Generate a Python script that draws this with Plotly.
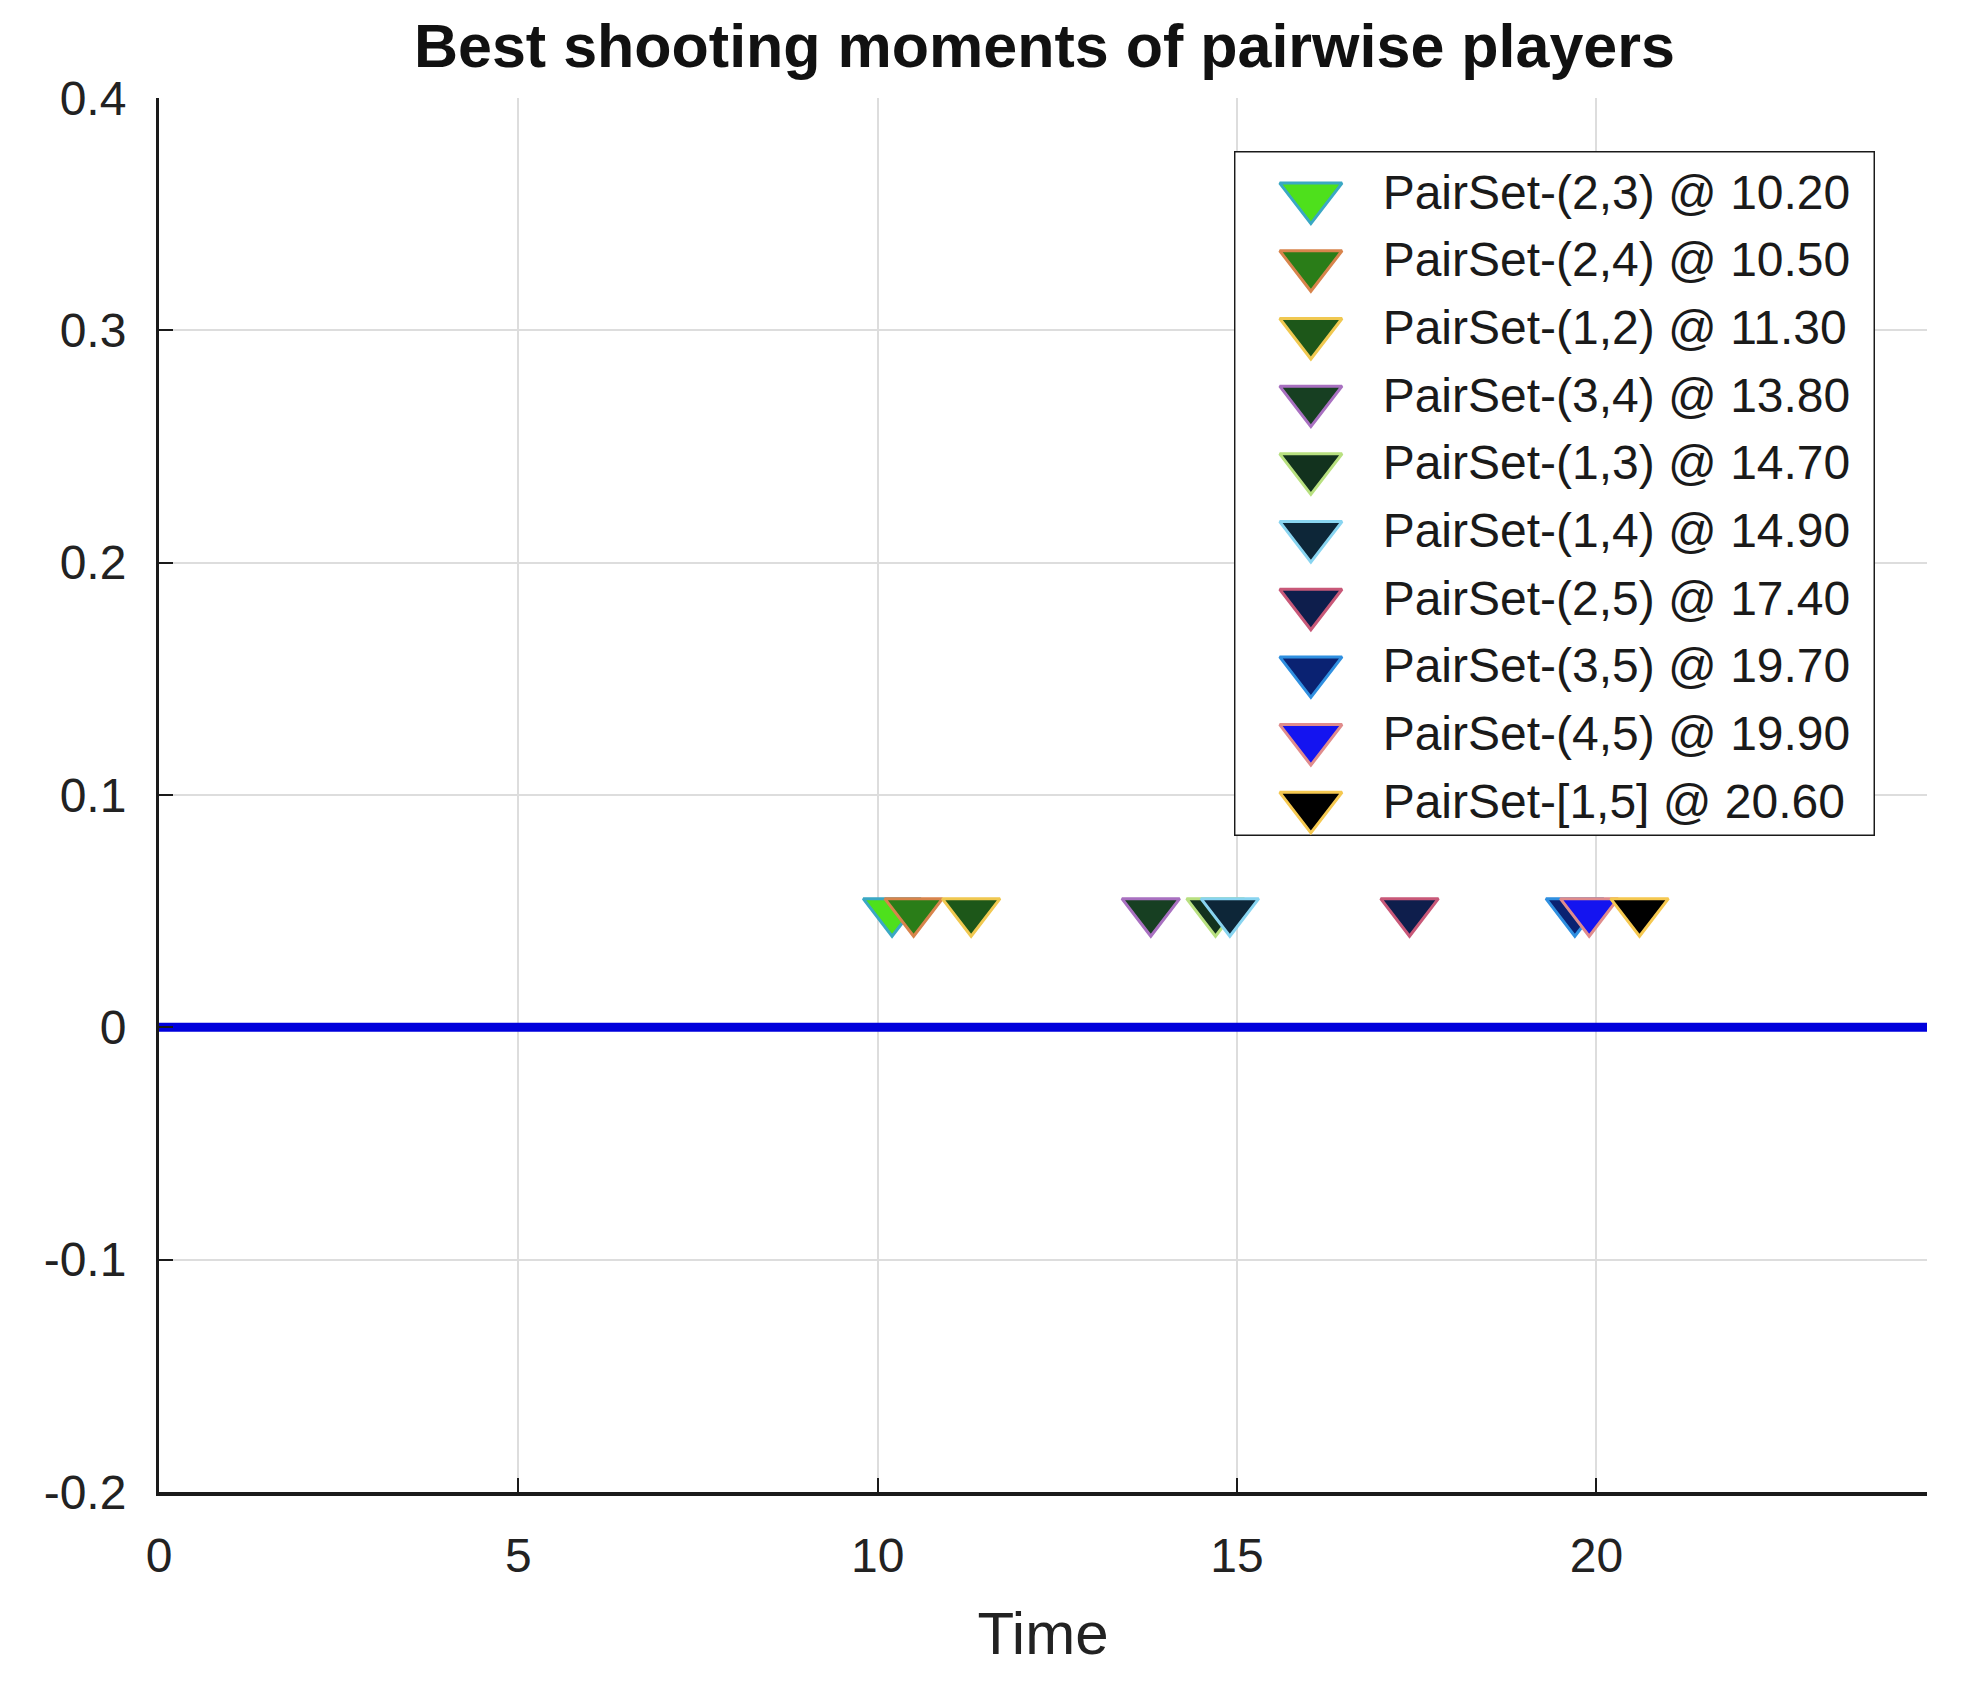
import plotly.graph_objects as go

# best shooting moment of each player pair
pairs = ["(2,3)", "(2,4)", "(1,2)", "(3,4)", "(1,3)", "(1,4)", "(2,5)", "(3,5)", "(4,5)", "[1,5]"]
times = [10.2, 10.5, 11.3, 13.8, 14.7, 14.9, 17.4, 19.7, 19.9, 20.6]
levels = [0.05, 0.05, 0.05, 0.05, 0.05, 0.05, 0.05, 0.05, 0.05, 0.05]
fill_colors = ["#4ee01c", "#2a7d18", "#1d5719", "#173f22", "#12321e",
               "#0d2638", "#0e1e4c", "#0a2272", "#1414f0", "#000000"]
edge_colors = ["#3aa8c4", "#d8844c", "#f0c850", "#a870c0", "#b8e080",
               "#88d4f0", "#c85878", "#2f8fe0", "#e08c8c", "#f5c850"]

# baseline drawn along the time axis
base_t = [0, 24.6]
base_y = [0, 0]

x_ticks = [0, 5, 10, 15, 20]
y_ticks = [-0.2, -0.1, 0, 0.1, 0.2, 0.3, 0.4]
y_ticktext = ["-0.2", "-0.1", "0", "0.1", "0.2", "0.3", "0.4"]

labels = ["PairSet-{} @ {:.2f}".format(p, t) for p, t in zip(pairs, times)]
rows = list(range(len(labels)))

FONT = "Liberation Sans, Arial, sans-serif"

# legend box spans the whole range of the legend axes
leg_x = [0, 1]
leg_y = [9.446, -0.674]

fig = go.Figure()

fig.add_trace(go.Scatter(
    x=base_t, y=base_y, mode="lines",
    line=dict(color="#0000dc", width=9),
    hoverinfo="skip",
))

fig.add_trace(go.Scatter(
    x=times, y=levels, mode="markers",
    marker=dict(symbol="triangle-down", size=50, color=fill_colors,
                line=dict(color=edge_colors, width=3)),
    text=labels, hoverinfo="text",
))

# hand-made legend (plotly caps legend marker size)
fig.add_trace(go.Scatter(
    x=[leg_x[0], leg_x[1], leg_x[1], leg_x[0], leg_x[0]],
    y=[leg_y[0], leg_y[0], leg_y[1], leg_y[1], leg_y[0]],
    mode="lines", fill="toself", fillcolor="white",
    line=dict(color="#1a1a1a", width=3),
    xaxis="x2", yaxis="y2", hoverinfo="skip",
))
fig.add_trace(go.Scatter(
    x=[0.12] * len(rows), y=rows, mode="markers",
    marker=dict(symbol="triangle-down", size=54, color=fill_colors,
                line=dict(color=edge_colors, width=3)),
    xaxis="x2", yaxis="y2", hoverinfo="skip",
))
fig.add_trace(go.Scatter(
    x=[0.232] * len(rows), y=rows, mode="text",
    text=labels, textposition="middle right",
    textfont=dict(family=FONT, size=48, color="#1a1a1a"),
    xaxis="x2", yaxis="y2", hoverinfo="skip",
))

fig.update_layout(
    width=1963, height=1677,
    margin=dict(l=151, r=44, t=90, b=193),
    paper_bgcolor="white", plot_bgcolor="white",
    showlegend=False,
    font=dict(family=FONT, color="#222222"),
    title=dict(text="<b>Best shooting moments of pairwise players</b>",
               x=0.528, xanchor="center", y=1 - 38 / 1677, yanchor="middle",
               yref="container",
               font=dict(family=FONT, size=61, color="#111111")),
    xaxis=dict(
        range=[0, 24.6], tickvals=x_ticks,
        showgrid=True, gridcolor="#dddddd", gridwidth=2,
        zeroline=False, showline=True, linecolor="#1a1a1a", linewidth=4,
        ticks="inside", ticklen=14, tickwidth=2, tickcolor="#1a1a1a",
        tickfont=dict(family=FONT, size=48, color="#222222"),
        ticklabelstandoff=18,
        title=dict(text="Time", standoff=32,
                   font=dict(family=FONT, size=60, color="#222222")),
        automargin=False,
    ),
    yaxis=dict(
        range=[-0.2, 0.4], tickvals=y_ticks, ticktext=y_ticktext,
        showgrid=True, gridcolor="#dddddd", gridwidth=2,
        zeroline=False, showline=True, linecolor="#1a1a1a", linewidth=3,
        ticks="inside", ticklen=14, tickwidth=2, tickcolor="#1a1a1a",
        tickfont=dict(family=FONT, size=48, color="#222222"),
        ticklabelstandoff=20,
        automargin=False,
    ),
    xaxis2=dict(domain=[0.608, 0.9706], range=leg_x, anchor="y2",
                visible=False, fixedrange=True),
    yaxis2=dict(domain=[0.4706, 0.962], range=leg_y, anchor="x2",
                visible=False, fixedrange=True),
)

fig.write_html("out.html")
